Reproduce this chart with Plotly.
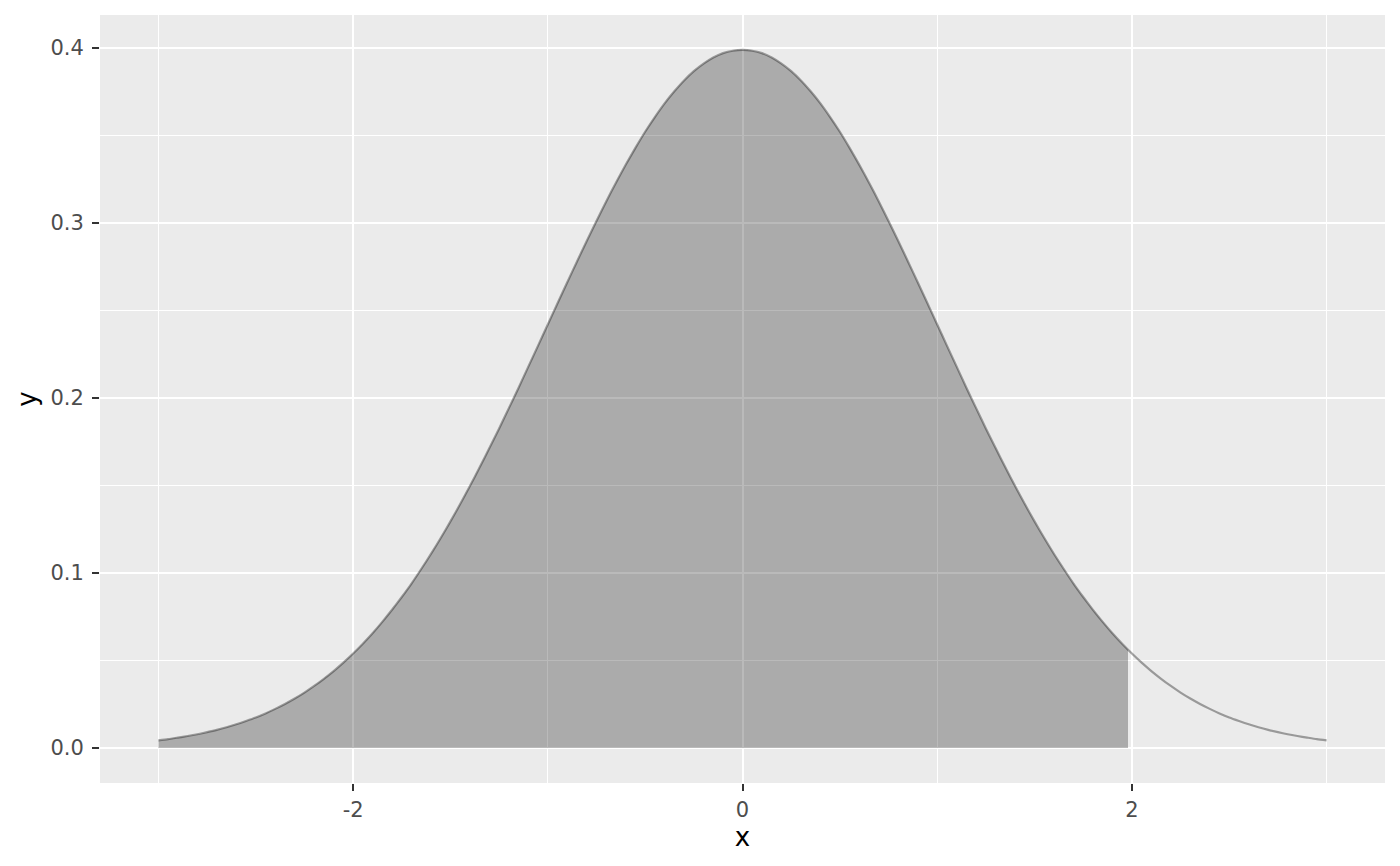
import plotly.graph_objects as go

# Curve values (standard normal density)
x_vals = [-3.0, -2.95, -2.9, -2.85, -2.8, -2.75, -2.7, -2.65, -2.6, -2.55,
          -2.5, -2.45, -2.4, -2.35, -2.3, -2.25, -2.2, -2.15, -2.1, -2.05,
          -2.0, -1.95, -1.9, -1.85, -1.8, -1.75, -1.7, -1.65, -1.6, -1.55,
          -1.5, -1.45, -1.4, -1.35, -1.3, -1.25, -1.2, -1.15, -1.1, -1.05,
          -1.0, -0.95, -0.9, -0.85, -0.8, -0.75, -0.7, -0.65, -0.6, -0.55,
          -0.5, -0.45, -0.4, -0.35, -0.3, -0.25, -0.2, -0.15, -0.1, -0.05,
          0.0, 0.05, 0.1, 0.15, 0.2, 0.25, 0.3, 0.35, 0.4, 0.45,
          0.5, 0.55, 0.6, 0.65, 0.7, 0.75, 0.8, 0.85, 0.9, 0.95,
          1.0, 1.05, 1.1, 1.15, 1.2, 1.25, 1.3, 1.35, 1.4, 1.45,
          1.5, 1.55, 1.6, 1.65, 1.7, 1.75, 1.8, 1.85, 1.9, 1.95,
          2.0, 2.05, 2.1, 2.15, 2.2, 2.25, 2.3, 2.35, 2.4, 2.45,
          2.5, 2.55, 2.6, 2.65, 2.7, 2.75, 2.8, 2.85, 2.9, 2.95, 3.0]
y_vals = [0.0044, 0.0051, 0.0060, 0.0069, 0.0079, 0.0091, 0.0104, 0.0119, 0.0136, 0.0155,
          0.0175, 0.0198, 0.0224, 0.0252, 0.0283, 0.0317, 0.0355, 0.0396, 0.0440, 0.0488,
          0.0540, 0.0596, 0.0656, 0.0721, 0.0790, 0.0863, 0.0940, 0.1023, 0.1109, 0.1200,
          0.1295, 0.1394, 0.1497, 0.1604, 0.1714, 0.1826, 0.1942, 0.2059, 0.2179, 0.2299,
          0.2420, 0.2541, 0.2661, 0.2780, 0.2897, 0.3011, 0.3123, 0.3230, 0.3332, 0.3429,
          0.3521, 0.3605, 0.3683, 0.3752, 0.3814, 0.3867, 0.3910, 0.3945, 0.3970, 0.3984,
          0.3989, 0.3984, 0.3970, 0.3945, 0.3910, 0.3867, 0.3814, 0.3752, 0.3683, 0.3605,
          0.3521, 0.3429, 0.3332, 0.3230, 0.3123, 0.3011, 0.2897, 0.2780, 0.2661, 0.2541,
          0.2420, 0.2299, 0.2179, 0.2059, 0.1942, 0.1826, 0.1714, 0.1604, 0.1497, 0.1394,
          0.1295, 0.1200, 0.1109, 0.1023, 0.0940, 0.0863, 0.0790, 0.0721, 0.0656, 0.0596,
          0.0540, 0.0488, 0.0440, 0.0396, 0.0355, 0.0317, 0.0283, 0.0252, 0.0224, 0.0198,
          0.0175, 0.0155, 0.0136, 0.0119, 0.0104, 0.0091, 0.0079, 0.0069, 0.0060, 0.0051, 0.0044]

# Shaded region ends here
shade_end_x = 1.98
shade_end_y = 0.0562

x_ticks = [-2, 0, 2]
x_tick_text = ["-2", "0", "2"]
x_minor = [-3, -1, 1, 3]
y_ticks = [0.0, 0.1, 0.2, 0.3, 0.4]
y_tick_text = ["0.0", "0.1", "0.2", "0.3", "0.4"]
y_minor = [0.05, 0.15, 0.25, 0.35]

area_x = [x for x in x_vals if x <= shade_end_x] + [shade_end_x]
area_y = [y for x, y in zip(x_vals, y_vals) if x <= shade_end_x] + [shade_end_y]

fig = go.Figure()
fig.add_trace(go.Scatter(
    x=x_vals, y=y_vals, mode="lines",
    line=dict(color="rgba(0,0,0,0.35)", width=2.2, shape="spline", smoothing=0.6),
    hoverinfo="skip", showlegend=False))
fig.add_trace(go.Scatter(
    x=area_x, y=area_y, mode="lines", fill="tozeroy",
    fillcolor="rgba(0,0,0,0.27)", line=dict(width=0, shape="spline", smoothing=0.6),
    hoverinfo="skip", showlegend=False))

tick_font = dict(family="DejaVu Sans", size=21, color="#4d4d4d")
title_font = dict(family="DejaVu Sans", size=26, color="#000000")

fig.update_layout(
    width=1400, height=866,
    margin=dict(l=92, r=23, t=7, b=91),
    paper_bgcolor="white", plot_bgcolor="#ebebeb",
    xaxis=dict(range=[-3.3, 3.3], tickvals=x_ticks, ticktext=x_tick_text,
               showgrid=True, gridcolor="white", gridwidth=2.2,
               zeroline=False, showline=False,
               ticks="outside", ticklen=7, tickwidth=2.2, tickcolor="#333333",
               tickfont=tick_font, ticklabelstandoff=1,
               title=dict(text="x", font=title_font, standoff=4),
               minor=dict(tickvals=x_minor, showgrid=True,
                          gridcolor="white", gridwidth=1.1, ticks="")),
    yaxis=dict(range=[-0.01995, 0.4188], tickvals=y_ticks, ticktext=y_tick_text,
               showgrid=True, gridcolor="white", gridwidth=2.2,
               zeroline=False, showline=False,
               ticks="outside", ticklen=7, tickwidth=2.2, tickcolor="#333333",
               tickfont=tick_font, ticklabelstandoff=4,
               title=dict(text="y", font=title_font, standoff=6),
               minor=dict(tickvals=y_minor, showgrid=True,
                          gridcolor="white", gridwidth=1.1, ticks="")),
)

fig.write_html("out.html")
